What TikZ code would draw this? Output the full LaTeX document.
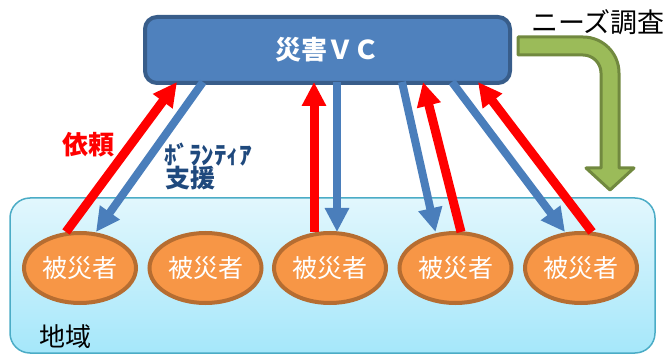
\documentclass[tikz,border=0pt]{standalone}
\usepackage{fontspec}
\setmainfont{Noto Sans CJK JP}
\usetikzlibrary{arrows.meta,calc,shapes.geometric}
\definecolor{vcfill}{HTML}{4F81BD}
\definecolor{vcline}{HTML}{385D8A}
\definecolor{regtop}{HTML}{E2F7FD}
\definecolor{regbot}{HTML}{A5E7FA}
\definecolor{regline}{HTML}{4BACC6}
\definecolor{vicfill}{HTML}{F79646}
\definecolor{vicline}{HTML}{B66D31}
\definecolor{grnfill}{HTML}{9BBB59}
\definecolor{grnline}{HTML}{71893F}
\definecolor{arrblue}{HTML}{4A7EBB}
\definecolor{volblue}{HTML}{1F497D}
\begin{document}
\begin{tikzpicture}[x=1pt,y=-1pt,
  vcbox/.style={draw=vcline,fill=vcfill,line width=4pt,rounded corners=12pt,
    minimum width=365pt,minimum height=66pt,inner sep=0pt,outer sep=0pt,
    text=white,font=\fontsize{26}{26}\selectfont\bfseries},
  regionbox/.style={draw=regline,line width=1.5pt,top color=regtop,bottom color=regbot,
    rounded corners=20pt,minimum width=645pt,minimum height=155pt,inner sep=0pt,outer sep=0pt},
  victim/.style={ellipse,draw=vicline,fill=vicfill,line width=4pt,
    minimum width=112pt,minimum height=70pt,inner sep=0pt,outer sep=0pt,
    text=white,font=\fontsize{25}{25}\selectfont},
  req/.style={draw=red,line width=9pt,-{Triangle[width=23pt,length=24pt]}},
  supply/.style={draw=arrblue,line width=8pt,-{Triangle[width=23pt,length=24pt]}},
  lbl/.style={inner sep=0pt,outer sep=0pt}
]
\useasboundingbox (0,0) rectangle (666,355);
% region
\node[regionbox] (reg) at (332.5,275.5) {};
\node[lbl,font=\fontsize{26}{26}\selectfont] (area) at (65,337) {地域};
% green bent arrow
\filldraw[fill=grnfill,draw=grnline,line width=3pt,line join=round]
  (518,37) -- (583,37) .. controls (602.9,37) and (619,53.1) .. (619,73)
  -- (619,168) -- (634,168) -- (610,190) -- (586,168) -- (601,168) -- (601,73)
  .. controls (601,63.1) and (592.9,55) .. (583,55) -- (518,55) -- cycle;
\node[lbl,anchor=west,font=\fontsize{27}{27}\selectfont] (needs) at (531,22) {ニーズ調査};
% VC box
\node[vcbox] (vc) at (327.5,50) {災害ＶＣ};
% victims
\node[victim] (v1) at (80,268) {被災者};
\node[victim] (v2) at (205.5,268) {被災者};
\node[victim] (v3) at (330,268) {被災者};
\node[victim] (v4) at (455.5,268) {被災者};
\node[victim] (v5) at (581,268) {被災者};
% arrows
\draw[req] ($(v1.north)+(-14,-1)$) -- ($(vc.south west)+(32,-1)$);
\draw[supply] ($(vc.south west)+(58,-1)$) -- ($(v1.north)+(16,-1)$);
\draw[req] ($(v3.north)+(-16,-1)$) -- ($(vc.south west)+(169,-1)$);
\draw[supply] ($(vc.south west)+(192,-1)$) -- ($(v3.north)+(7,-1)$);
\draw[supply] ($(vc.south west)+(257,-1)$) -- ($(v4.north)+(-20,-1)$);
\draw[req] ($(v4.north)+(5.5,-1)$) -- ($(vc.south west)+(278,-1)$);
\draw[supply] ($(vc.south west)+(307,-1)$) -- ($(v5.north)+(-16,-1)$);
\draw[req] ($(v5.north)+(11,-1)$) -- ($(vc.south west)+(333,-1)$);
% labels
\node[lbl,text=red,font=\fontsize{26}{26}\selectfont\bfseries] (irai) at (88,145) {依頼};
\node[lbl,anchor=west,text=volblue,font=\fontsize{25}{25}\selectfont\bfseries] (vol) at (164,155) {ﾎﾞﾗﾝﾃｨｱ};
\node[lbl,anchor=west,text=volblue,font=\fontsize{25}{25}\selectfont\bfseries] (shien) at (165,178) {支援};
\end{tikzpicture}
\end{document}
